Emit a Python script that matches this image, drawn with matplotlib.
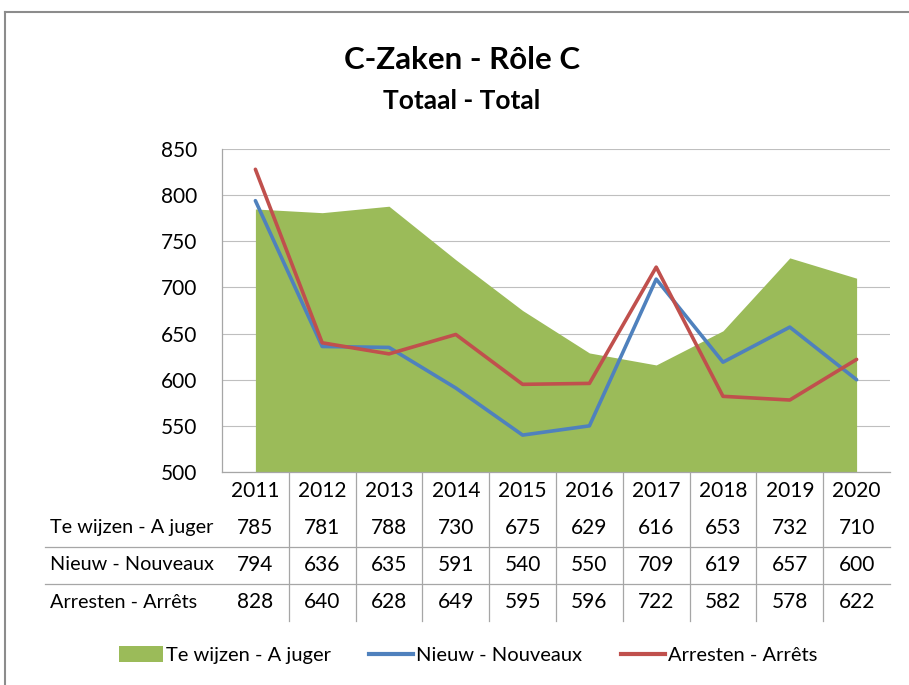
import matplotlib
matplotlib.use("Agg")
import matplotlib.pyplot as plt
from matplotlib.lines import Line2D
from matplotlib.patches import Patch
from matplotlib.transforms import blended_transform_factory
import numpy as np

plt.rcParams['font.family'] = ['Lato', 'DejaVu Sans']

years = ['2011', '2012', '2013', '2014', '2015', '2016', '2017', '2018', '2019', '2020']
te_wijzen = [785, 781, 788, 730, 675, 629, 616, 653, 732, 710]
nieuw = [794, 636, 635, 591, 540, 550, 709, 619, 657, 600]
arresten = [828, 640, 628, 649, 595, 596, 722, 582, 578, 622]
row_labels = ['Te wijzen - A juger', 'Nieuw - Nouveaux', 'Arresten - Arrêts']
yticks = [500, 550, 600, 650, 700, 750, 800, 850]

W, H = 909, 685
green = '#9BBB59'
blue = '#4F81BD'
red = '#C0504D'
grid_c = '#BFBFBF'
line_c = '#A6A6A6'


def fx(px):
    return px / W


def fy(py):
    return 1 - py / H


fig = plt.figure(figsize=(W / 100, H / 100), dpi=100)

# outer chart border (runs off the right and bottom edge)
fig.add_artist(Line2D([fx(5), 1.0], [fy(12), fy(12)], color='#8C8C8C', lw=1.5))
fig.add_artist(Line2D([fx(5), fx(5)], [fy(12), 0.0], color='#8C8C8C', lw=1.5))

ax_left, ax_right, ax_top, ax_bot = 222, 890, 149, 472
ax = fig.add_axes([fx(ax_left), fy(ax_bot), fx(ax_right - ax_left), (ax_bot - ax_top) / H])

x = np.arange(len(years))
ax.fill_between(x, te_wijzen, 500, color=green, lw=0, zorder=2)
ax.plot(x, nieuw, color=blue, lw=2.6, zorder=3, solid_capstyle='round')
ax.plot(x, arresten, color=red, lw=2.6, zorder=4, solid_capstyle='round')

ax.set_xlim(-0.5, len(years) - 0.5)
ax.set_ylim(500, 850)
ax.set_yticks(yticks)
ax.set_yticklabels([str(v) for v in yticks], fontsize=15)
ax.set_xticks([])
ax.tick_params(axis='y', length=0, pad=18)
ax.grid(axis='y', color=grid_c, lw=0.8, zorder=0)
ax.set_axisbelow(True)
for s in ['top', 'right']:
    ax.spines[s].set_visible(False)
ax.spines['left'].set_color(line_c)
ax.spines['bottom'].set_color(line_c)
ax.spines['left'].set_linewidth(0.9)
ax.spines['bottom'].set_linewidth(0.9)

# titles
fig.text(fx(462), fy(60), 'C-Zaken - Rôle C', ha='center', va='center',
         fontsize=22.5, fontweight='bold')
fig.text(fx(462), fy(101), 'Totaal - Total', ha='center', va='center',
         fontsize=19, fontweight='bold')

# data table below the axis
tr = blended_transform_factory(ax.transData, fig.transFigure)
row_y = [491, 528, 565, 602]
for i, yr in enumerate(years):
    fig.text(i, fy(row_y[0]), yr, transform=tr, ha='center', va='center', fontsize=15)
    for r, series in enumerate([te_wijzen, nieuw, arresten]):
        fig.text(i, fy(row_y[r + 1]), str(series[i]), transform=tr,
                 ha='center', va='center', fontsize=15)
for r, lab in enumerate(row_labels):
    fig.text(fx(50), fy(row_y[r + 1]), lab, ha='left', va='center', fontsize=14.3)

for i in range(len(years) - 1):
    fig.add_artist(Line2D([i + 0.5, i + 0.5], [fy(473), fy(621)], transform=tr,
                          color=line_c, lw=0.9))
for hy in [547, 584]:
    fig.add_artist(Line2D([fx(45), fx(ax_right)], [fy(hy), fy(hy)], color=line_c, lw=0.9))

# legend
handles = [Patch(facecolor=green, edgecolor='none'),
           Line2D([], [], color=blue, lw=3),
           Line2D([], [], color=red, lw=3)]
fig.legend(handles, row_labels, loc='center', bbox_to_anchor=(fx(468), fy(655)),
           ncol=3, frameon=False, fontsize=14.5, handlelength=2.2, handletextpad=0.15,
           columnspacing=1.9, handleheight=0.8)

fig.savefig('out.png', dpi=100)
